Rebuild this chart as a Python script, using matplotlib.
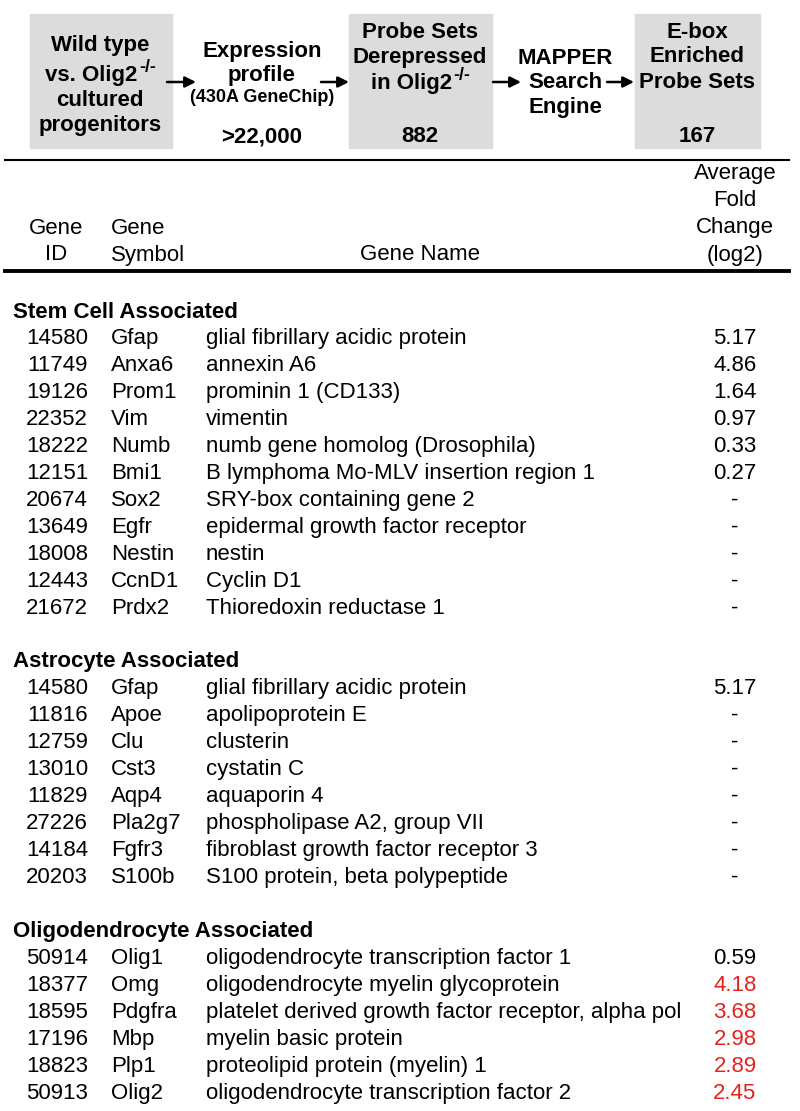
import matplotlib
matplotlib.use("Agg")
import matplotlib.pyplot as plt
from matplotlib.patches import Rectangle

FONT = ['Liberation Sans', 'DejaVu Sans']

# flow chart steps
steps = [
    ["Wild type", "vs. Olig2^-/-", "cultured", "progenitors"],
    ["Expression", "profile", "(430A GeneChip)"],
    ["Probe Sets", "Derepressed", "in Olig2^-/-"],
    ["MAPPER", "Search", "Engine"],
    ["E-box", "Enriched", "Probe Sets"],
]
step_counts = ["", ">22,000", "882", "", "167"]
step_boxed = [True, False, True, False, True]

# table
sections = ["Stem Cell Associated", "Astrocyte Associated", "Oligodendrocyte Associated"]
gene_ids = [
    ["14580", "11749", "19126", "22352", "18222", "12151", "20674", "13649", "18008", "12443", "21672"],
    ["14580", "11816", "12759", "13010", "11829", "27226", "14184", "20203"],
    ["50914", "18377", "18595", "17196", "18823", "50913"],
]
gene_symbols = [
    ["Gfap", "Anxa6", "Prom1", "Vim", "Numb", "Bmi1", "Sox2", "Egfr", "Nestin", "CcnD1", "Prdx2"],
    ["Gfap", "Apoe", "Clu", "Cst3", "Aqp4", "Pla2g7", "Fgfr3", "S100b"],
    ["Olig1", "Omg", "Pdgfra", "Mbp", "Plp1", "Olig2"],
]
gene_names = [
    ["glial fibrillary acidic protein", "annexin A6", "prominin 1 (CD133)", "vimentin",
     "numb gene homolog (Drosophila)", "B lymphoma Mo-MLV insertion region 1",
     "SRY-box containing gene 2", "epidermal growth factor receptor", "nestin",
     "Cyclin D1", "Thioredoxin reductase 1"],
    ["glial fibrillary acidic protein", "apolipoprotein E", "clusterin", "cystatin C",
     "aquaporin 4", "phospholipase A2, group VII", "fibroblast growth factor receptor 3",
     "S100 protein, beta polypeptide"],
    ["oligodendrocyte transcription factor 1", "oligodendrocyte myelin glycoprotein",
     "platelet derived growth factor receptor, alpha pol", "myelin basic protein",
     "proteolipid protein (myelin) 1", "oligodendrocyte transcription factor 2"],
]
fold_change = [
    ["5.17", "4.86", "1.64", "0.97", "0.33", "0.27", "-", "-", "-", "-", "-"],
    ["5.17", "-", "-", "-", "-", "-", "-", "-"],
    ["0.59", "4.18", "3.68", "2.98", "2.89", "2.45"],
]
highlight = [
    [False] * 11,
    [False] * 8,
    [False, True, True, True, True, True],
]

fig = plt.figure(figsize=(8, 11.11), dpi=100)
ax = fig.add_axes([0, 0, 1, 1])
ax.set_xlim(0, 800)
ax.set_ylim(1111, 0)
ax.axis('off')
renderer = fig.canvas.get_renderer()


def width_px(t):
    return t.get_window_extent(renderer=renderer).width


def flow_line(x, y, s, size):
    # text with an optional raised "-/-" part, centred on x
    if "^" in s:
        base, sup = s.split("^")
        t1 = ax.text(0, y, base, ha='left', va='center', fontsize=size,
                     fontweight='bold', family=FONT)
        t2 = ax.text(0, y - 8, sup, ha='left', va='center', fontsize=size * 0.8,
                     fontweight='bold', family=FONT)
        w1, w2 = width_px(t1), width_px(t2)
        x0 = x - (w1 + w2) / 2
        t1.set_x(x0)
        t2.set_x(x0 + w1 + 1)
    else:
        ax.text(x, y, s, ha='center', va='center', fontsize=size,
                fontweight='bold', family=FONT)


# flow chart
centers = [100, 262, 420, 565, 697]
boxes = [(30, 172), (0, 0), (349, 492), (0, 0), (635, 760)]
line_y = {0: [45, 75, 101, 126], 1: [51, 76, 98], 2: [33, 58, 84], 3: [58, 82, 107], 4: [33, 57, 82]}
for i, lines in enumerate(steps):
    if step_boxed[i]:
        x0, x1 = boxes[i]
        ax.add_patch(Rectangle((x0, 14), x1 - x0, 134, color='#dcdcdc', zorder=0))
    for j, s in enumerate(lines):
        size = 13 if s.startswith("(") else 16
        flow_line(centers[i], line_y[i][j], s, size)
    if step_counts[i]:
        flow_line(centers[i], 137, step_counts[i], 16)

for x0, x1 in [(167, 196), (321, 349), (493, 521), (607, 634)]:
    ax.annotate("", xy=(x1, 82), xytext=(x0, 82),
                arrowprops=dict(arrowstyle='-|>', color='black', lw=1.8,
                                mutation_scale=16, shrinkA=0, shrinkB=0))

# separators
ax.plot([5, 789], [160, 160], color='black', lw=1.5)
ax.plot([5, 789], [271, 271], color='black', lw=2.8)

# column header
fs = 16
ax.text(735, 173, "Average", ha='center', va='center', fontsize=fs, family=FONT)
ax.text(735, 201, "Fold", ha='center', va='center', fontsize=fs, family=FONT)
ax.text(735, 228, "Change", ha='center', va='center', fontsize=fs, family=FONT)
ax.text(735, 255, "(log2)", ha='center', va='center', fontsize=fs, family=FONT)
ax.text(56, 228, "Gene", ha='center', va='center', fontsize=fs, family=FONT)
ax.text(56, 255, "ID", ha='center', va='center', fontsize=fs, family=FONT)
ax.text(111, 228, "Gene", ha='left', va='center', fontsize=fs, family=FONT)
ax.text(111, 255, "Symbol", ha='left', va='center', fontsize=fs, family=FONT)
ax.text(420, 255, "Gene Name", ha='center', va='center', fontsize=fs, family=FONT)

# rows
section_y = [312, 662, 932]
row_h = 27
for k, title in enumerate(sections):
    ax.text(13, section_y[k], title, ha='left', va='center', fontsize=16,
            fontweight='bold', family=FONT)
    for r in range(len(gene_ids[k])):
        y = section_y[k] + 26.5 + r * row_h
        ax.text(88, y, gene_ids[k][r], ha='right', va='center', fontsize=fs, family=FONT)
        ax.text(111, y, gene_symbols[k][r], ha='left', va='center', fontsize=fs, family=FONT)
        ax.text(206, y, gene_names[k][r], ha='left', va='center', fontsize=fs, family=FONT)
        col = '#e3231e' if highlight[k][r] else 'black'
        ax.text(735, y, fold_change[k][r], ha='center', va='center', fontsize=fs,
                family=FONT, color=col)

fig.savefig("out.png", dpi=100)
